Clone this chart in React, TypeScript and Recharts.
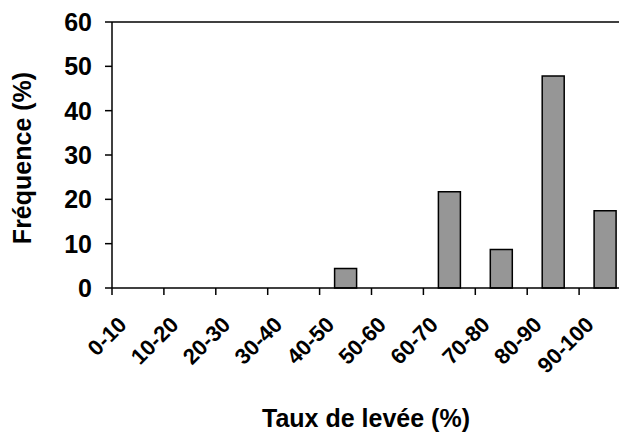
import React from 'react';
import { BarChart, Bar, XAxis, YAxis, ReferenceLine, Label } from 'recharts';

const categories = ['0-10', '10-20', '20-30', '30-40', '40-50', '50-60', '60-70', '70-80', '80-90', '90-100'];
const frequences = [0, 0, 0, 0, 4.4, 0, 21.7, 8.7, 47.8, 17.4];
const yTicks = [0, 10, 20, 30, 40, 50, 60];

const data = categories.map((name, i) => ({ name, value: frequences[i] }));

const FONT = '"Liberation Sans", Arial, sans-serif';
const CHART_W = 640;
const CHART_H = 435;
const MARGIN = { top: 22, right: 9, left: 0, bottom: 0 };
const Y_AXIS_W = 112;
const STEP = (CHART_W - MARGIN.right - Y_AXIS_W) / categories.length;

const CategoryTick = (props: any) => {
  const { x, y, payload } = props;
  const tx = x - 10;
  const ty = y + 38;
  return (
    <g>
      <line x1={x - STEP / 2} y1={y} x2={x - STEP / 2} y2={y + 7} stroke="#000" strokeWidth={1.5} />
      <text
        x={tx}
        y={ty}
        transform={`rotate(-45, ${tx}, ${ty})`}
        textAnchor="end"
        fontFamily={FONT}
        fontWeight="bold"
        fontSize={22}
        fill="#000"
      >
        {payload.value}
      </text>
    </g>
  );
};

const App: React.FC = () => {
  return (
    <div style={{ position: 'absolute', left: 0, top: 0, width: 619, height: 435, overflow: 'hidden', background: '#fff' }}>
      <BarChart width={CHART_W} height={CHART_H} data={data} margin={MARGIN}>
        <XAxis
          dataKey="name"
          interval={0}
          height={CHART_H - 288}
          axisLine={{ stroke: '#000', strokeWidth: 1.5 }}
          tickLine={false}
          tickSize={0}
          tickMargin={0}
          tick={<CategoryTick />}
        >
          <Label
            content={({ viewBox }: any) => (
              <text
                x={viewBox.x + 254}
                y={viewBox.y + 139}
                textAnchor="middle"
                fontFamily={FONT}
                fontWeight="bold"
                fontSize={25}
                fill="#000"
              >
                Taux de levée (%)
              </text>
            )}
          />
        </XAxis>
        <YAxis
          width={Y_AXIS_W}
          domain={[0, 60]}
          ticks={yTicks}
          interval={0}
          axisLine={{ stroke: '#000', strokeWidth: 1.5 }}
          tickLine={{ stroke: '#000', strokeWidth: 1.5 }}
          tickSize={7}
          tickMargin={13}
          tick={{ fill: '#000', fontSize: 25, fontWeight: 'bold', fontFamily: FONT }}
        >
          <Label
            content={({ viewBox }: any) => {
              const lx = viewBox.x + 31;
              const ly = viewBox.y + viewBox.height / 2 + 3;
              return (
                <text
                  x={lx}
                  y={ly}
                  transform={`rotate(-90, ${lx}, ${ly})`}
                  textAnchor="middle"
                  fontFamily={FONT}
                  fontWeight="bold"
                  fontSize={25}
                  fill="#000"
                >
                  Fréquence (%)
                </text>
              );
            }}
          />
        </YAxis>
        <ReferenceLine y={60} stroke="#000" strokeWidth={1.5} />
        <Bar dataKey="value" fill="#969696" stroke="#000" strokeWidth={1.5} barSize={22} isAnimationActive={false} />
      </BarChart>
    </div>
  );
};

export default App;
